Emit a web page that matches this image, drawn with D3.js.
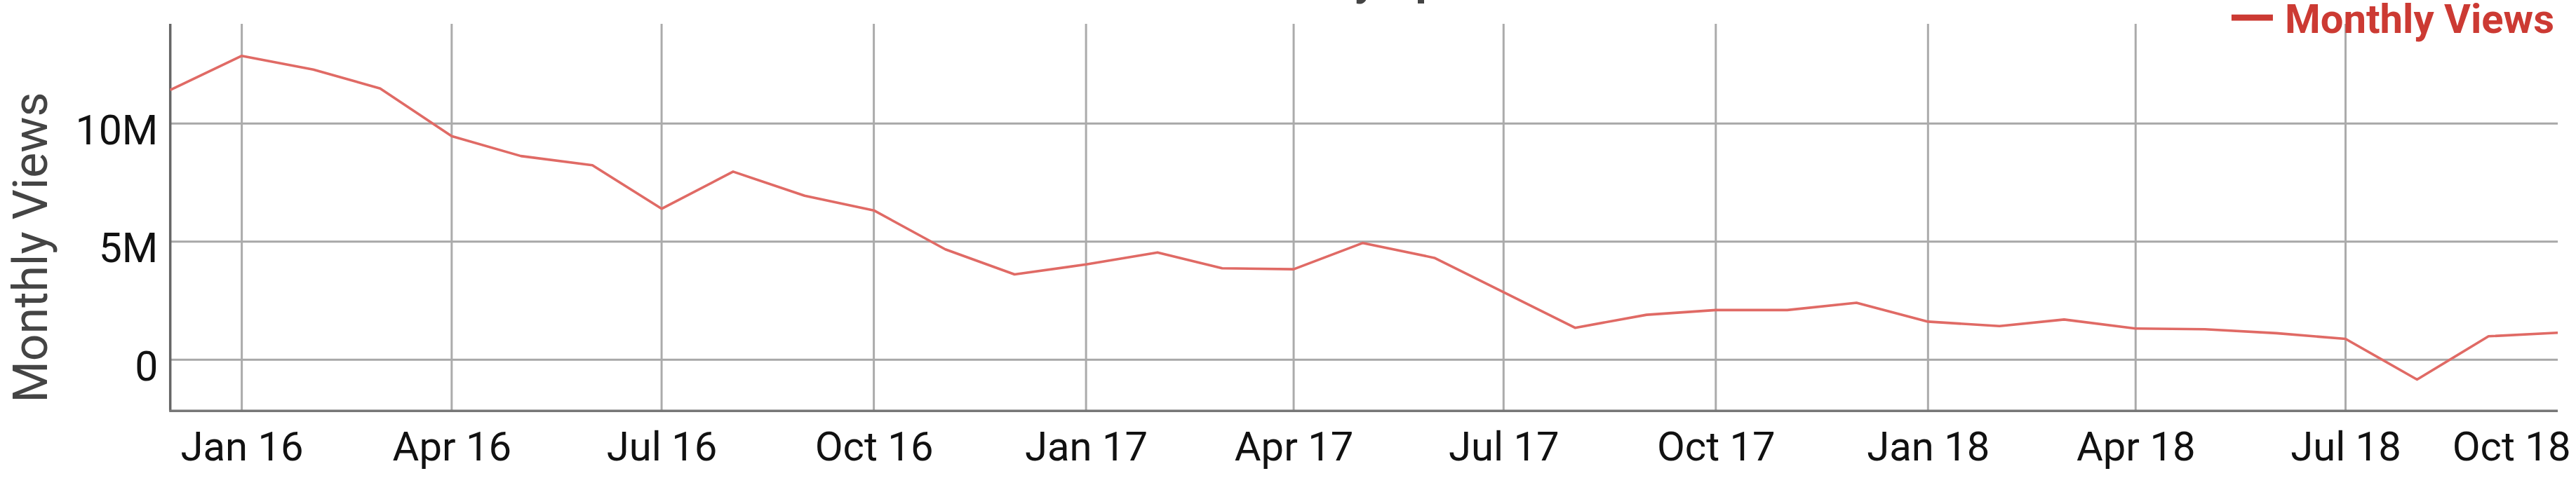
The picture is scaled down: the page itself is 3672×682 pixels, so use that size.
<!DOCTYPE html>
<html>
<head>
<meta charset="utf-8">
<script src="https://cdn.jsdelivr.net/npm/d3@7"></script>
<style>
  html, body { margin: 0; padding: 0; background: #fff; }
  svg { display: block; font-family: Roboto, "Noto Sans", sans-serif; }
</style>
</head>
<body>
<svg id="chart" width="3672" height="682"></svg>
<script>
// ---- data ----
const months = [
  "2015-12",
  "2016-01","2016-02","2016-03","2016-04","2016-05","2016-06","2016-07","2016-08","2016-09","2016-10","2016-11","2016-12",
  "2017-01","2017-02","2017-03","2017-04","2017-05","2017-06","2017-07","2017-08","2017-09","2017-10","2017-11","2017-12",
  "2018-01","2018-02","2018-03","2018-04","2018-05","2018-06","2018-07","2018-08","2018-09","2018-10"
];
const monthlyViews = [
  11.42,
  12.86, 12.28, 11.48, 9.46, 8.62, 8.23, 6.39, 7.96, 6.94, 6.32, 4.67, 3.61,
  4.03, 4.54, 3.87, 3.83, 4.94, 4.31, 2.86, 1.35, 1.90, 2.10, 2.10, 2.41,
  1.61, 1.42, 1.70, 1.32, 1.29, 1.12, 0.88, -0.84, 0.99, 1.14
].map(v => v * 1e6);
const yTickValues = [0, 5e6, 10e6];
const yTickLabels = ["0", "5M", "10M"];
const xTickMonths = ["2016-01","2016-04","2016-07","2016-10","2017-01","2017-04","2017-07","2017-10","2018-01","2018-04","2018-07","2018-10"];
const xTickLabels = ["Jan 16","Apr 16","Jul 16","Oct 16","Jan 17","Apr 17","Jul 17","Oct 17","Jan 18","Apr 18","Jul 18","Oct 18"];
const seriesName = "Monthly Views";
const axisTitle = "Monthly Views";
const chartTitle = "Views by Sport";

// ---- layout ----
const W = 3672, H = 682;
const pLeft = 242.7, pRight = 3646, pTop = 33.9, pBottom = 586.3;
const parse = d3.timeParse("%Y-%m");
const data = months.map((m, i) => ({ date: parse(m), value: monthlyViews[i] }));

const x = d3.scaleTime()
  .domain([parse("2015-12"), parse("2018-10")])
  .range([pLeft, pRight]);
const y = d3.scaleLinear()
  .domain([-2.17e6, 14.22e6])
  .range([pBottom, pTop]);

const svg = d3.select("#chart");
svg.append("rect").attr("width", W).attr("height", H).attr("fill", "#fff");

// title (mostly above the visible area, as in the reference)
const title = svg.append("text")
  .attr("y", -8)
  .attr("font-size", 64)
  .attr("font-weight", "bold")
  .attr("fill", "#444")
  .text(chartTitle);
{
  const node = title.node();
  const idx = chartTitle.indexOf("y");
  const off = idx > 0 ? node.getSubStringLength(0, idx) : 0;
  title.attr("x", 1930 - off);
}

// horizontal gridlines
svg.append("g")
  .selectAll("line")
  .data(yTickValues)
  .join("line")
  .attr("x1", pLeft).attr("x2", pRight)
  .attr("y1", d => y(d)).attr("y2", d => y(d))
  .attr("stroke", "#a8a8a8")
  .attr("stroke-width", 3);

// vertical gridlines
const xTickDates = xTickMonths.map(parse);
svg.append("g")
  .selectAll("line")
  .data(xTickDates.filter(d => x(d) < pRight - 5))
  .join("line")
  .attr("x1", d => x(d)).attr("x2", d => x(d))
  .attr("y1", pTop).attr("y2", pBottom)
  .attr("stroke", "#ababab")
  .attr("stroke-width", 3);

// y axis via d3.axisLeft (labels only)
const yAxis = d3.axisLeft(y)
  .tickValues(yTickValues)
  .tickFormat((d, i) => yTickLabels[i])
  .tickSize(0)
  .tickPadding(0);
const gy = svg.append("g")
  .attr("transform", `translate(${225.3},0)`)
  .call(yAxis);
gy.select(".domain").remove();
gy.selectAll("text")
  .attr("font-family", "Roboto")
  .attr("font-size", 59)
  .attr("fill", "#111")
  .attr("dy", null)
  .attr("y", 29);

// x axis labels via d3.axisBottom
const xAxis = d3.axisBottom(x)
  .tickValues(xTickDates)
  .tickFormat((d, i) => xTickLabels[i])
  .tickSize(0)
  .tickPadding(0);
const gx = svg.append("g")
  .attr("transform", `translate(0,${pBottom})`)
  .call(xAxis);
gx.select(".domain").remove();
gx.selectAll("text")
  .attr("font-family", "Roboto")
  .attr("font-size", 58)
  .attr("fill", "#111")
  .attr("dy", null)
  .attr("y", 70.5);
// keep edge labels inside the canvas
gx.selectAll(".tick").each(function(d) {
  const t = d3.select(this).select("text");
  const w = t.node().getComputedTextLength();
  const cx = x(d);
  const maxRight = W - 8;
  if (cx + w / 2 > maxRight) t.attr("x", maxRight - w / 2 - cx);
});

// axis lines
svg.append("line")
  .attr("x1", pLeft).attr("x2", pLeft)
  .attr("y1", pTop).attr("y2", pBottom)
  .attr("stroke", "#666").attr("stroke-width", 3.5);
svg.append("line")
  .attr("x1", pLeft - 1.5).attr("x2", pRight)
  .attr("y1", pBottom).attr("y2", pBottom)
  .attr("stroke", "#777").attr("stroke-width", 3.5);

// series line
svg.append("path")
  .datum(data)
  .attr("fill", "none")
  .attr("stroke", "#e06a65")
  .attr("stroke-width", 3.6)
  .attr("stroke-linejoin", "round")
  .attr("d", d3.line().x(d => x(d.date)).y(d => y(d.value)));

// y axis title
svg.append("text")
  .attr("transform", `translate(67,353) rotate(-90)`)
  .attr("text-anchor", "middle")
  .attr("font-size", 68)
  .attr("fill", "#444")
  .text(axisTitle);

// legend
const legText = svg.append("text")
  .attr("x", 3641).attr("y", 46.5)
  .attr("text-anchor", "end")
  .attr("font-size", 58)
  .attr("font-weight", "bold")
  .attr("fill", "#cc3a33")
  .text(seriesName);
const lw = legText.node().getComputedTextLength();
const legStart = 3641 - lw;
svg.append("line")
  .attr("x1", legStart - 76).attr("x2", legStart - 17)
  .attr("y1", 25.2).attr("y2", 25.2)
  .attr("stroke", "#cc3a33")
  .attr("stroke-width", 8.7);
</script>
</body>
</html>
